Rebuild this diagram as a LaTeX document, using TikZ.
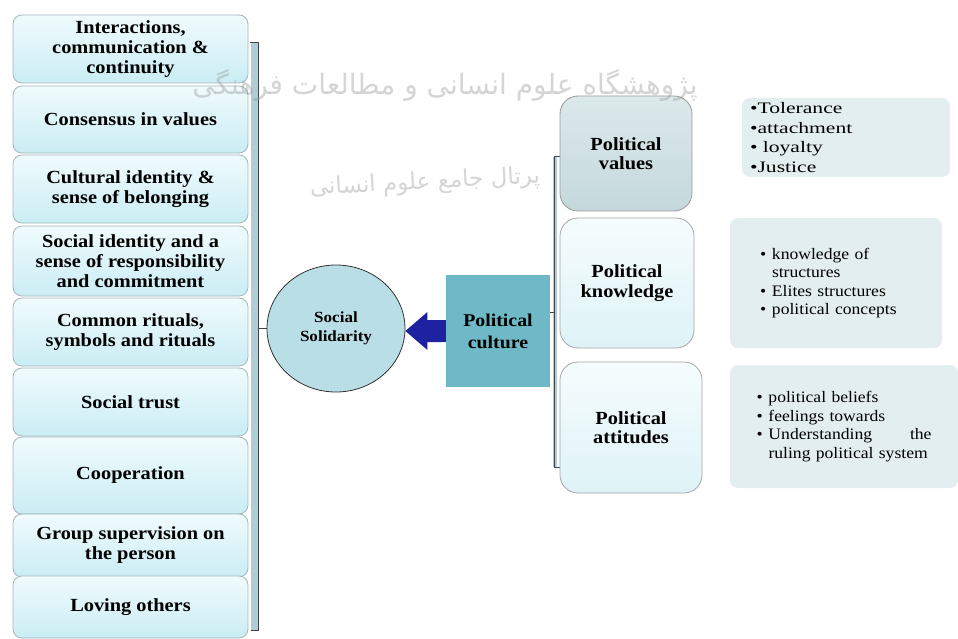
\documentclass[tikz,border=0pt]{standalone}
\usepackage{fontspec}
\setmainfont[FakeStretch=1.1]{Liberation Serif}
\newfontfamily\valfont[FakeStretch=1.35]{Liberation Serif}
\newfontfamily\arabicfont[Script=Arabic]{DejaVu Sans}
\TeXXeTstate=1
\usetikzlibrary{calc,shapes.geometric}
\newcommand\setfs[2]{\fontsize{#1}{#2}\selectfont}
\newcommand\bul{\makebox[12pt][l]{•}}
\definecolor{lboxborder}{RGB}{165,182,188}
\definecolor{lboxtop}{RGB}{240,251,253}
\definecolor{lboxbot}{RGB}{202,237,244}
\definecolor{circfill}{RGB}{186,222,229}
\definecolor{arrowblue}{RGB}{30,34,160}
\definecolor{pcfill}{RGB}{110,185,197}
\definecolor{pvtop}{RGB}{220,233,235}
\definecolor{pvbot}{RGB}{196,216,220}
\definecolor{rboxtop}{RGB}{246,252,253}
\definecolor{rboxbot}{RGB}{222,243,247}
\definecolor{bfill}{RGB}{227,238,240}
\definecolor{barfill}{RGB}{176,204,212}
\definecolor{bardark}{RGB}{60,70,75}
\definecolor{wmgray}{RGB}{150,150,150}
\begin{document}
\begin{tikzpicture}[x=1pt,y=-1pt,
  wm/.style={text=wmgray, text opacity=0.4, inner sep=0pt},
  lbox/.style={rectangle, rounded corners=9pt, draw=lboxborder, line width=0.8pt,
    top color=lboxtop, bottom color=lboxbot, minimum width=235pt, align=center,
    inner sep=2pt, font=\bfseries\setfs{18.5}{20}},
  rbox/.style={rectangle, rounded corners=18pt, draw=gray!70, line width=0.8pt,
    align=center, inner sep=2pt, font=\bfseries\setfs{18.5}{19.5}},
  bbox/.style={rectangle, rounded corners=8pt, fill=bfill, align=left,
    font=\setfs{16}{18.5}},
  brk/.style={draw=bardark, line width=1pt}]
\useasboundingbox (0,0) rectangle (958,639);
\fill[white] (0,0) rectangle (958,639);

% left column
\node[lbox, minimum height=68pt] (b1) at (130.5,49) {Interactions,\\communication \&\\continuity};
\node[lbox, minimum height=67pt] (b2) at (130.5,119.5) {Consensus in values};
\node[lbox, minimum height=68pt] (b3) at (130.5,189) {Cultural identity \&\\sense of belonging};
\node[lbox, minimum height=70pt] (b4) at (130.5,261) {Social identity and a\\sense of responsibility\\and commitment};
\node[lbox, minimum height=68pt] (b5) at (130.5,332) {Common rituals,\\symbols and rituals};
\node[lbox, minimum height=68pt] (b6) at (130.5,402) {Social trust};
\node[lbox, minimum height=77pt] (b7) at (130.5,475.5) {Cooperation};
\node[lbox, minimum height=63pt] (b8) at (130.5,545.5) {Group supervision on\\the person};
\node[lbox, minimum height=62pt] (b9) at (130.5,607) {Loving others};

% left bracket
\coordinate (lt) at (258,43);
\coordinate (lbm) at (258,630);
\fill[barfill] (251,43) rectangle (258,630);
\draw[brk] (250,43) -- (lt) -- (lbm) -- (251,630);

% circle
\node[ellipse, draw=black!80, fill=circfill, line width=0.8pt, minimum width=138pt,
  minimum height=127pt, font=\bfseries\setfs{15.5}{19}, align=center] (ss) at (336,328.5) {Social\\Solidarity};
\draw[brk] (ss.west -| lt) -- (ss.west);

% political culture
\node[rectangle, fill=pcfill, minimum width=104pt, minimum height=112pt,
  font=\bfseries\setfs{18}{22}, align=center] (pc) at (498,331) {Political\\culture};

% arrow
\coordinate (tip) at (ss.east |- pc.west);
\fill[arrowblue] ($(pc.west)+(0,-11)$) -- ($(tip)+(22,-11)$) -- ($(tip)+(22,-19)$) -- (tip)
  -- ($(tip)+(22,19)$) -- ($(tip)+(22,11)$) -- ($(pc.west)+(0,11)$) -- cycle;

% right bracket
\fill[barfill] (553,157) rectangle (557,467);
\draw[brk] (560,157) -- (554,157) -- (554,467) -- (560,467);
\coordinate (rt) at (554,312);
\draw[brk] (rt) -- (rt -| pc.east);

% right boxes
\node[rbox, top color=pvtop, bottom color=pvbot, draw=gray!80, minimum width=132pt,
  minimum height=115pt] (pv) at (626,153.5) {Political\\values};
\node[rbox, top color=rboxtop, bottom color=rboxbot, minimum width=134pt,
  minimum height=130pt] (pk) at (627,283) {Political\\knowledge};
\node[rbox, top color=rboxtop, bottom color=rboxbot, minimum width=142pt,
  minimum height=131pt] (pa) at (631,427.5) {Political\\attitudes};

% bullet boxes
\node[bbox, font=\valfont\setfs{16}{19.5}, text width=192pt, inner xsep=8pt,
  minimum height=79pt] (bv) at (846,137.5) {•Tolerance\\•attachment\\• loyalty\\•Justice};
\node[bbox, text width=152pt, inner xsep=30pt, minimum height=130pt] (bk) at (836,283)
  {\bul knowledge of\\\hspace*{12pt}structures\\\bul Elites structures\\\bul political concepts};
\node[bbox, text width=175pt, inner xsep=26.5pt, minimum height=123pt] (ba) at (844,426.5)
  {\bul political beliefs\\\bul feelings towards\\\bul\hbox to 163pt{Understanding\hfill the}\\\hspace*{12pt}ruling political system};

% watermark (semi-transparent, over the diagram)
\node[wm] (wm1) at (445,85) {\arabicfont\setfs{28}{32}\beginR پژوهشگاه علوم انسانی و مطالعات فرهنگی\endR};
\node[wm, rotate=3] (wm2) at (425,183) {\arabicfont\setfs{23}{28}\beginR پرتال جامع علوم انسانی\endR};
\end{tikzpicture}
\end{document}
